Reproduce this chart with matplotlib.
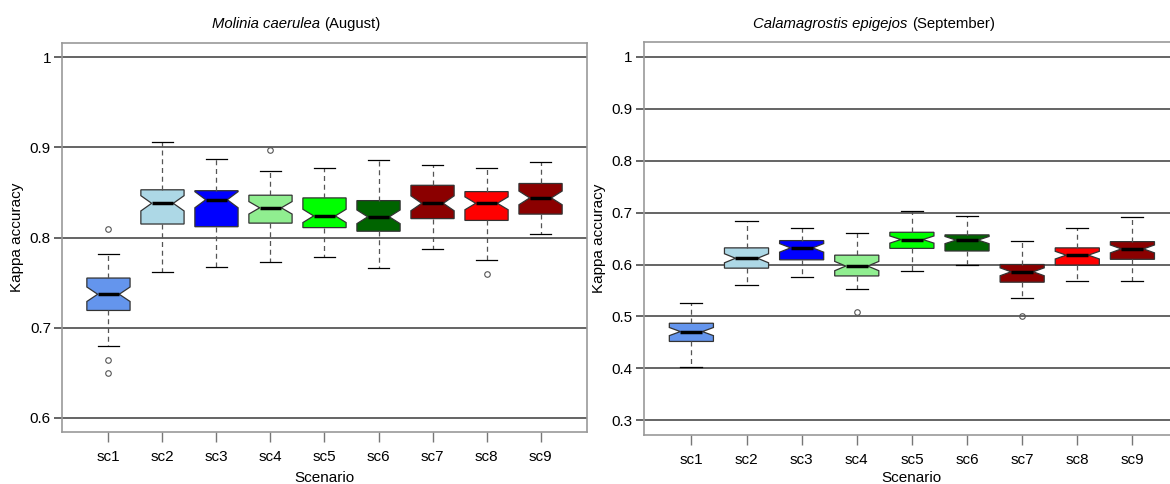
import matplotlib.pyplot as plt
import numpy as np

plt.rcParams['font.family'] = ['Liberation Sans', 'DejaVu Sans']

# escenarios y colores
scenarios = ['sc1', 'sc2', 'sc3', 'sc4', 'sc5', 'sc6', 'sc7', 'sc8', 'sc9']
box_colors = ['#6495ED', '#ADD8E6', '#0000FF', '#90EE90', '#00FF00',
              '#006400', '#8B0000', '#FF0000', '#8B0000']

# Molinia caerulea (August)
mol_whislo = [0.679, 0.762, 0.767, 0.773, 0.778, 0.766, 0.787, 0.775, 0.804]
mol_q1 = [0.719, 0.815, 0.812, 0.816, 0.811, 0.807, 0.821, 0.819, 0.826]
mol_med = [0.737, 0.838, 0.842, 0.833, 0.824, 0.823, 0.838, 0.838, 0.844]
mol_q3 = [0.755, 0.853, 0.852, 0.847, 0.844, 0.841, 0.858, 0.851, 0.860]
mol_whishi = [0.782, 0.906, 0.887, 0.874, 0.877, 0.886, 0.880, 0.877, 0.884]
mol_fliers = [[0.809, 0.664, 0.650], [], [], [0.897], [], [], [], [0.760], []]

# Calamagrostis epigejos (September)
cal_whislo = [0.403, 0.560, 0.576, 0.553, 0.588, 0.600, 0.536, 0.568, 0.568]
cal_q1 = [0.452, 0.593, 0.609, 0.578, 0.631, 0.626, 0.566, 0.599, 0.610]
cal_med = [0.471, 0.612, 0.632, 0.597, 0.648, 0.647, 0.586, 0.618, 0.630]
cal_q3 = [0.487, 0.632, 0.646, 0.618, 0.662, 0.657, 0.600, 0.632, 0.644]
cal_whishi = [0.525, 0.684, 0.671, 0.661, 0.702, 0.693, 0.646, 0.671, 0.692]
cal_fliers = [[], [], [], [0.508], [], [], [0.500], [], []]

N_RUNS = 50


def make_stats(lo, q1, med, q3, hi, fliers):
    stats = []
    for i in range(len(med)):
        half = 1.58 * (q3[i] - q1[i]) / np.sqrt(N_RUNS)
        stats.append({'whislo': lo[i], 'q1': q1[i], 'med': med[i],
                      'q3': q3[i], 'whishi': hi[i], 'fliers': fliers[i],
                      'cilo': med[i] - half, 'cihi': med[i] + half})
    return stats


def draw_panel(ax, stats, ylim, yticks, ytlabels, title_it, title_rest, ty, xpad):
    bp = ax.bxp(stats, positions=range(1, 10), widths=0.8, capwidths=0.4,
                shownotches=True, patch_artist=True,
                boxprops=dict(edgecolor='#333333', linewidth=0.9),
                whiskerprops=dict(color='#555555', linewidth=0.9,
                                  linestyle=(0, (4, 3))),
                capprops=dict(color='black', linewidth=0.9),
                medianprops=dict(color='black', linewidth=2.5),
                flierprops=dict(marker='o', markerfacecolor='none',
                                markeredgecolor='#555555', markersize=4,
                                markeredgewidth=0.8))
    for patch, c in zip(bp['boxes'], box_colors):
        patch.set_facecolor(c)
    ax.set_xlim(0.14, 9.86)
    ax.set_ylim(*ylim)
    ax.set_yticks(yticks)
    ax.set_yticklabels(ytlabels)
    ax.set_xticks(range(1, 10))
    ax.set_xticklabels(scenarios)
    ax.grid(axis='y', color='#3a3a3a', linewidth=1.1)
    ax.set_axisbelow(True)
    ax.tick_params(axis='y', length=6, color='#3a3a3a', width=1.1,
                   labelsize=11, pad=2)
    ax.tick_params(axis='x', length=7, color='#777777', width=1.0,
                   labelsize=11, pad=6)
    for s in ax.spines.values():
        s.set_color('#999999')
        s.set_linewidth(1.2)
    ax.set_ylabel('Kappa accuracy', fontsize=11, labelpad=4)
    ax.set_xlabel('Scenario', fontsize=11, labelpad=xpad)
    ax.text(0.5, ty, title_it + ' ', transform=ax.transAxes,
            fontsize=10.7, style='italic', ha='right', va='center')
    ax.text(0.5, ty, title_rest, transform=ax.transAxes,
            fontsize=10.7, ha='left', va='center')


fig = plt.figure(figsize=(11.7, 4.84), dpi=100)
fig.patch.set_facecolor('white')

ax1 = fig.add_axes([0.053, 0.1074, 0.4487, 0.8037])
ax2 = fig.add_axes([0.5504, 0.1012, 0.458, 0.812])

draw_panel(ax1, make_stats(mol_whislo, mol_q1, mol_med, mol_q3, mol_whishi, mol_fliers),
           (0.584, 1.016), [0.6, 0.7, 0.8, 0.9, 1.0],
           ['0.6', '0.7', '0.8', '0.9', '1'],
           'Molinia caerulea', '(August)', 1.049, 5)
draw_panel(ax2, make_stats(cal_whislo, cal_q1, cal_med, cal_q3, cal_whishi, cal_fliers),
           (0.272, 1.028), [0.3, 0.4, 0.5, 0.6, 0.7, 0.8, 0.9, 1.0],
           ['0.3', '0.4', '0.5', '0.6', '0.7', '0.8', '0.9', '1'],
           'Calamagrostis epigejos', '(September)', 1.046, 2.5)

plt.savefig('out.png', dpi=100, facecolor='white')
plt.close()
